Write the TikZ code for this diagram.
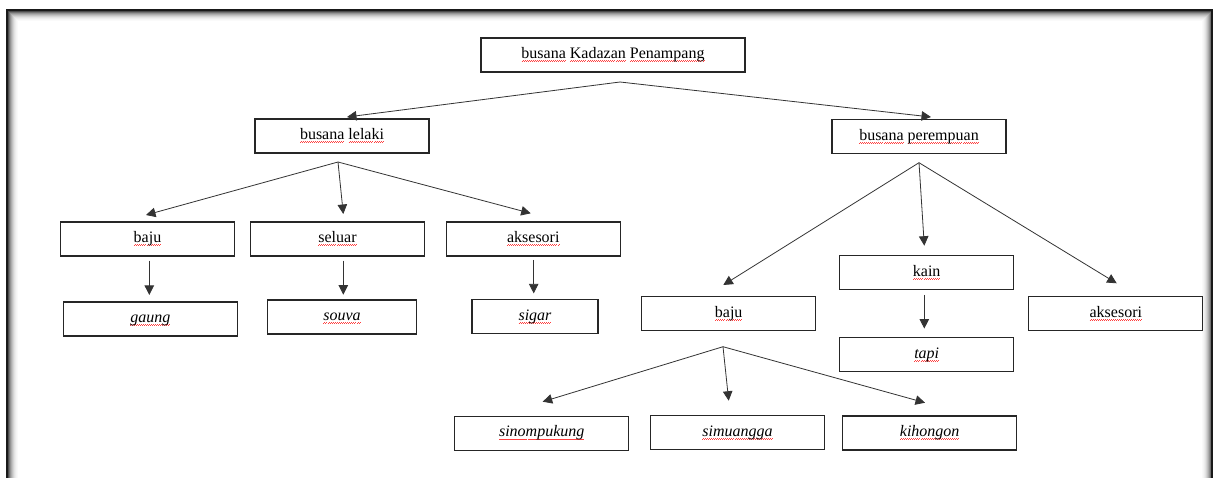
\documentclass[tikz,border=0pt]{standalone}
\usepackage{fontspec}
\setmainfont{Liberation Serif}
\usetikzlibrary{arrows.meta}
\newcommand\sq[1]{\setbox0\hbox{#1}\rlap{\textcolor{red!75}{\lower3pt\hbox to \wd0{\xleaders\hbox{\rule{1pt}{0.45pt}\raisebox{0.7pt}{\rule{1pt}{0.45pt}}}\hfil}}}\box0}
\newcommand\gap{\hspace{4pt}}
\tikzset{
  box/.style={draw=black!85, line width=1.3pt, inner sep=0pt, text height=11pt, text depth=4pt,
    font=\fontsize{16}{19}\selectfont, minimum height=34pt, minimum width=174pt},
  leaf/.style={box, font=\fontsize{16}{19}\selectfont\itshape},
  conn/.style={draw=black!80, line width=0.8pt, -{Triangle[length=9.5pt,width=9.5pt]}},
}
\begin{document}
\begin{tikzpicture}[x=1pt,y=-1pt]
\useasboundingbox (0,0) rectangle (1215,477);
\fill[white] (0,0) rectangle (1215,477);
% frame with inner shadow
\begin{scope}
\clip (0,0) rectangle (1215,477);
\foreach \i/\c in {1/70,2/55,3/42,4/32,5/24,6/17,7/11,8/7,9/4,10/2}
  \draw[black!\c, line width=1pt] ({7+\i},{10+\i}) rectangle ({1212-\i},{488-\i});
\draw[black!90, line width=2pt] (7,10) rectangle (1212,488);
\end{scope}

% nodes
\node[box, minimum width=264pt] (root) at (613,55) {\sq{busana}\gap\sq{Kadazan}\gap\sq{Penampang}};
\node[box] (lelaki) at (342,136) {\sq{busana}\gap\sq{lelaki}};
\node[box] (perempuan) at (919,136.5) {\sq{busana}\gap\sq{perempuan}};

\node[box] (bajuL) at (147.5,239) {\sq{baju}};
\node[box] (seluar) at (337.5,239) {\sq{seluar}};
\node[box] (aksesoriL) at (533.3,239) {\sq{aksesori}};

\node[leaf] (gaung) at (150.3,319) {\sq{gaung}};
\node[leaf, minimum width=149pt] (souva) at (342,317) {\sq{souva}};
\node[leaf, minimum width=126pt] (sigar) at (535,316.5) {\sq{sigar}};

\node[box] (bajuR) at (728.7,313.5) {\sq{baju}};
\node[box] (kain) at (926.7,272.7) {\sq{kain}};
\node[leaf] (tapi) at (926.7,354.5) {\sq{tapi}};
\node[box] (aksesoriR) at (1115.8,313.5) {\sq{aksesori}};

\node[leaf] (sinompukung) at (541.7,433.3) {\sq{sinompukung}};
\node[leaf] (simuangga) at (737.5,432.7) {\sq{simuangga}};
\node[leaf] (kihongon) at (929.7,433) {\sq{kihongon}};

% branch points
\coordinate (aRoot) at (620,82);
\coordinate (aL) at (338,162);
\coordinate (aR) at (919,162.7);
\coordinate (aB) at (723,346.7);

% arrow tips
\coordinate (tLelaki) at (347,117);
\coordinate (tPerempuan) at (931,117);
\coordinate (tBajuL) at (146,215);
\coordinate (tSeluar) at (343.3,214);
\coordinate (tAksL) at (530.7,213.3);
\coordinate (tBajuR) at (723.3,285);
\coordinate (tKain) at (924.3,245.7);
\coordinate (tAksR) at (1116.7,283.3);
\coordinate (tSino) at (542.7,401.7);
\coordinate (tSimu) at (728.7,400.7);
\coordinate (tKiho) at (925,402.7);

% connectors
\draw[conn] (aRoot) -- (tLelaki);
\draw[conn] (aRoot) -- (tPerempuan);
\draw[conn] (aL) -- (tBajuL);
\draw[conn] (aL) -- (tSeluar);
\draw[conn] (aL) -- (tAksL);
\draw[conn] (aR) -- (tBajuR);
\draw[conn] (aR) -- (tKain);
\draw[conn] (aR) -- (tAksR);
\draw[conn] (aB) -- (tSino);
\draw[conn] (aB) -- (tSimu);
\draw[conn] (aB) -- (tKiho);

\draw[conn] ([xshift=1.8pt,yshift=-4pt]bajuL.south) -- ([xshift=1.8pt,yshift=-38.3pt]bajuL.south);
\draw[conn] ([xshift=5.8pt,yshift=-4pt]seluar.south) -- ([xshift=5.8pt,yshift=-38pt]seluar.south);
\draw[conn] ([xshift=0.4pt,yshift=-3.3pt]aksesoriL.south) -- ([xshift=0.4pt,yshift=-36.7pt]aksesoriL.south);
\draw[conn] ([xshift=-2.4pt,yshift=-4.5pt]kain.south) -- ([xshift=-2.4pt,yshift=-38.2pt]kain.south);
\end{tikzpicture}
\end{document}
